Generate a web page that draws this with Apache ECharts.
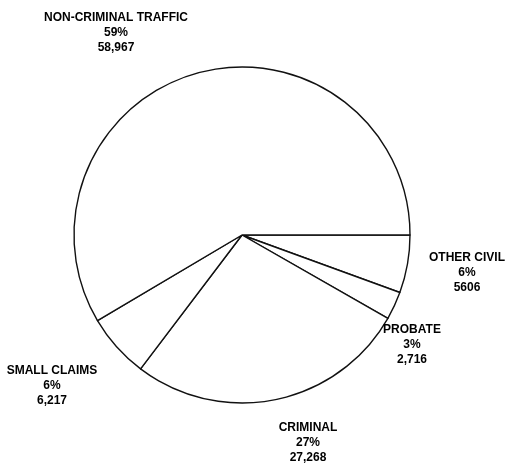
<!DOCTYPE html>
<html>
<head>
<meta charset="utf-8">
<script src="https://cdn.jsdelivr.net/npm/echarts@6/dist/echarts.min.js"></script>
<style>
  html, body { margin: 0; padding: 0; background: #fff; }
  #chart { width: 509px; height: 468px; }
</style>
</head>
<body>
<div id="chart"></div>
<script>
// slices go clockwise from 3 o'clock
const categories = ['OTHER CIVIL', 'PROBATE', 'CRIMINAL', 'SMALL CLAIMS', 'NON-CRIMINAL TRAFFIC']
const caseCounts = [5606, 2716, 27268, 6217, 58967]
const countLabels = ['5606', '2,716', '27,268', '6,217', '58,967']
const percentLabels = ['6%', '3%', '27%', '6%', '59%']

// where each label block sits (px)
const labelSpots = [[467, 273], [412, 345], [308, 443], [52, 386], [116, 33]]

const chart = echarts.init(document.getElementById('chart'))

chart.setOption({
  animation: false,
  backgroundColor: '#ffffff',
  series: [
    {
      type: 'pie',
      center: [242, 235],
      radius: 168,
      startAngle: 0,
      clockwise: true,
      silent: true,
      data: categories.map((name, i) => ({ name, value: caseCounts[i] })),
      itemStyle: {
        color: '#ffffff',
        borderColor: '#111111',
        borderWidth: 1.4,
      },
      label: {
        show: true,
        position: 'outside',
        color: '#000',
        fontFamily: 'Liberation Sans, Arial, sans-serif',
        fontWeight: 'bold',
        fontSize: 12,
        lineHeight: 15,
        align: 'center',
        overflow: 'none',
        formatter: (p) => `${p.name}\n${percentLabels[p.dataIndex]}\n${countLabels[p.dataIndex]}`,
      },
      labelLine: { show: false },
      labelLayout: (params) => ({
        x: labelSpots[params.dataIndex][0],
        y: labelSpots[params.dataIndex][1],
        align: 'center',
        verticalAlign: 'middle',
      }),
    },
  ],
})
</script>
</body>
</html>
